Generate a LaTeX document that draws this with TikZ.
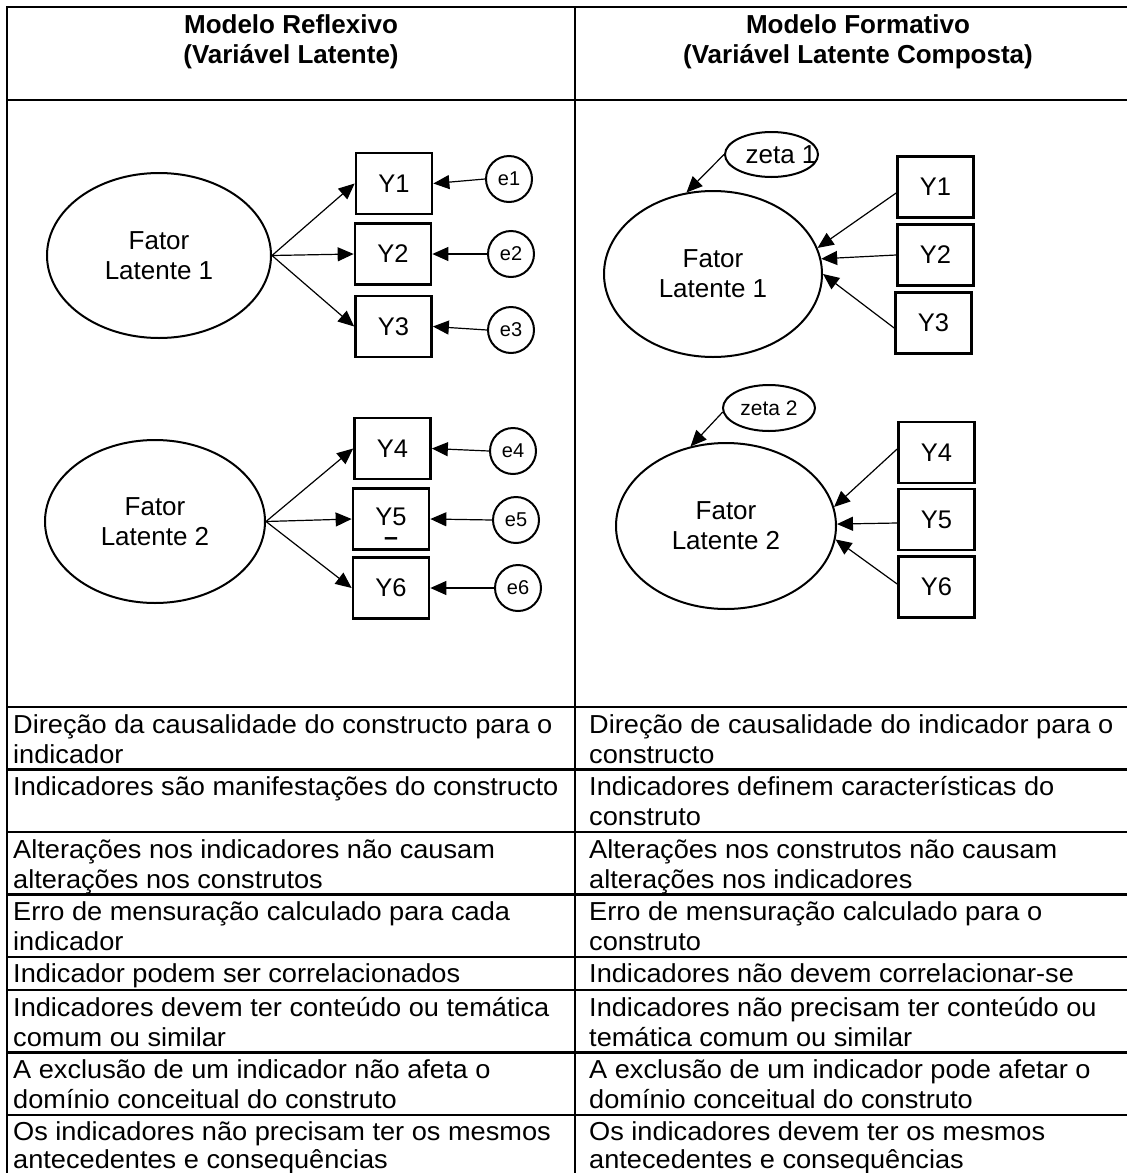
\documentclass[tikz,border=0pt]{standalone}
\usepackage{fontspec}
\setmainfont{Liberation Sans}
\newfontfamily\rowfont[FakeStretch=1.045]{Liberation Sans}
\usetikzlibrary{arrows.meta,shapes.geometric}
\begin{document}
\begin{tikzpicture}[x=1pt,y=-1pt,
  grid/.style={line width=2.2pt,line cap=rect},
  latent/.style={ellipse,draw,line width=2pt,inner sep=0pt,align=center,font=\fontsize{26}{30}\selectfont},
  ind/.style={rectangle,draw,line width=2.7pt,minimum width=76pt,minimum height=61pt,inner sep=0pt,font=\fontsize{25.5}{30}\selectfont},
  err/.style={circle,draw,line width=2pt,minimum size=46pt,inner sep=0pt,font=\fontsize{20}{24}\selectfont},
  dist/.style={ellipse,draw,line width=2pt,inner sep=0pt},
  link/.style={-{Triangle[length=16pt,width=14pt]},line width=1.2pt},
  head/.style={anchor=base,inner sep=0pt,font=\fontsize{26}{30}\selectfont\bfseries},
  cell/.style={anchor=base west,inner sep=0pt,font=\rowfont\fontsize{26}{30}\selectfont},
]
\useasboundingbox (0,0) rectangle (1127,1173);

% table rules
\draw[grid] (7,7) -- (1145,7);
\draw[grid] (7,7) -- (7,1185);
\draw[grid] (575,7) -- (575,1185);
\foreach \yy in {100,707,769.5,832,894.5,957,990,1052.5,1115,1177.5}
  \draw[grid] (7,\yy) -- (1145,\yy);

% column headings
\node[head] (hl1) at (291,33) {Modelo Reflexivo};
\node[head] (hl2) at (291,63) {(Variável Latente)};
\node[head] (hr1) at (858,33) {Modelo Formativo};
\node[head] (hr2) at (858,63) {(Variável Latente Composta)};

% reflective model, factor 1
\node[latent,minimum width=224pt,minimum height=165pt] (L1) at (159,255.5) {Fator\\Latente 1};
\node[ind] (Y1) at (394,183.5) {Y1};
\node[ind] (Y2) at (393,254) {Y2};
\node[ind] (Y3) at (393.5,326.5) {Y3};
\node[err] (e1) at (509,179) {e1};
\node[err] (e2) at (511,254) {e2};
\node[err] (e3) at (511,330) {e3};
\draw[link] (L1.east) -- (Y1.west);
\draw[link] (L1.east) -- (Y2.west);
\draw[link] (L1.east) -- (Y3.west);
\draw[link] (e1.west) -- (Y1.east);
\draw[link] (e2.west) -- (Y2.east);
\draw[link] (e3.west) -- (Y3.east);

% reflective model, factor 2
\node[latent,minimum width=220pt,minimum height=163pt] (L2) at (155,521.5) {Fator\\Latente 2};
\node[ind] (Y4) at (392.5,448.5) {Y4};
\node[ind] (Y5) at (391,519) {\raisebox{4pt}{Y5}};
\node[inner sep=0pt,font=\fontsize{25}{30}\selectfont\bfseries] (Y5dash) at (391,542) {--};
\node[ind] (Y6) at (391,588) {Y6};
\node[err] (e4) at (513,451) {e4};
\node[err] (e5) at (516,520) {e5};
\node[err] (e6) at (518,588) {e6};
\draw[link] (L2.east) -- (Y4.west);
\draw[link] (L2.east) -- (Y5.west);
\draw[link] (L2.east) -- (Y6.west);
\draw[link] (e4.west) -- (Y4.east);
\draw[link] (e5.west) -- (Y5.east);
\draw[link] (e6.west) -- (Y6.east);

% formative model, composite 1
\node[dist,minimum width=93pt,minimum height=45pt,font=\fontsize{26}{30}\selectfont] (z1) at (771.5,154.5) {\makebox[0pt]{\hspace{19pt}zeta 1}};
\node[latent,minimum width=218pt,minimum height=166pt] (R1) at (713,274) {Fator\\Latente 1};
\node[ind] (RY1) at (935.5,187) {Y1};
\node[ind] (RY2) at (935.5,255) {Y2};
\node[ind] (RY3) at (933.5,323) {Y3};
\draw[link] (z1.west) -- (R1.108);
\draw[link] ([yshift=-6pt]RY1.west) -- (R1.14);
\draw[link] (RY2.west) -- (R1.8);
\draw[link] ([yshift=-5pt]RY3.west) -- (R1.0);

% formative model, composite 2
\node[dist,minimum width=92pt,minimum height=46pt,font=\fontsize{21}{24}\selectfont] (z2) at (769,408) {\makebox[0pt]{zeta 2}};
\node[latent,minimum width=220pt,minimum height=166pt] (R2) at (726,526) {Fator\\Latente 2};
\node[ind] (RY4) at (936.5,452.5) {Y4};
\node[ind] (RY5) at (936.5,519.5) {Y5};
\node[ind] (RY6) at (936.5,587) {Y6};
\draw[link] (z2.185) -- (R2.114);
\draw[link] ([yshift=3.5pt]RY4.west) -- (R2.10);
\draw[link] ([yshift=-3.5pt]RY5.west) -- (R2.1);
\draw[link] ([yshift=3pt]RY6.west) -- (R2.-7);

% comparison rows
\node[cell] (a1) at (13,733) {Direção da causalidade do constructo para o};
\node[cell] (a2) at (13,763) {indicador};
\node[cell] (b1) at (589,733) {Direção de causalidade do indicador para o};
\node[cell] (b2) at (589,763) {constructo};
\node[cell] (a3) at (13,795.5) {Indicadores são manifestações do constructo};
\node[cell] (b3) at (589,795.5) {Indicadores definem características do};
\node[cell] (b4) at (589,825.5) {construto};
\node[cell] (a5) at (13,858) {Alterações nos indicadores não causam};
\node[cell] (a6) at (13,888) {alterações nos construtos};
\node[cell] (b5) at (589,858) {Alterações nos construtos não causam};
\node[cell] (b6) at (589,888) {alterações nos indicadores};
\node[cell] (a7) at (13,920.5) {Erro de mensuração calculado para cada};
\node[cell] (a8) at (13,950.5) {indicador};
\node[cell] (b7) at (589,920.5) {Erro de mensuração calculado para o};
\node[cell] (b8) at (589,950.5) {construto};
\node[cell] (a9) at (13,982.5) {Indicador podem ser correlacionados};
\node[cell] (b9) at (589,982.5) {Indicadores não devem correlacionar-se};
\node[cell] (a10) at (13,1016) {Indicadores devem ter conteúdo ou temática};
\node[cell] (a11) at (13,1046) {comum ou similar};
\node[cell] (b10) at (589,1016) {Indicadores não precisam ter conteúdo ou};
\node[cell] (b11) at (589,1046) {temática comum ou similar};
\node[cell] (a12) at (13,1078.5) {A exclusão de um indicador não afeta o};
\node[cell] (a13) at (13,1108.5) {domínio conceitual do construto};
\node[cell] (b12) at (589,1078.5) {A exclusão de um indicador pode afetar o};
\node[cell] (b13) at (589,1108.5) {domínio conceitual do construto};
\node[cell] (a14) at (13,1140) {Os indicadores não precisam ter os mesmos};
\node[cell] (a15) at (13,1168) {antecedentes e consequências};
\node[cell] (b14) at (589,1140) {Os indicadores devem ter os mesmos};
\node[cell] (b15) at (589,1168) {antecedentes e consequências};
\end{tikzpicture}
\end{document}
